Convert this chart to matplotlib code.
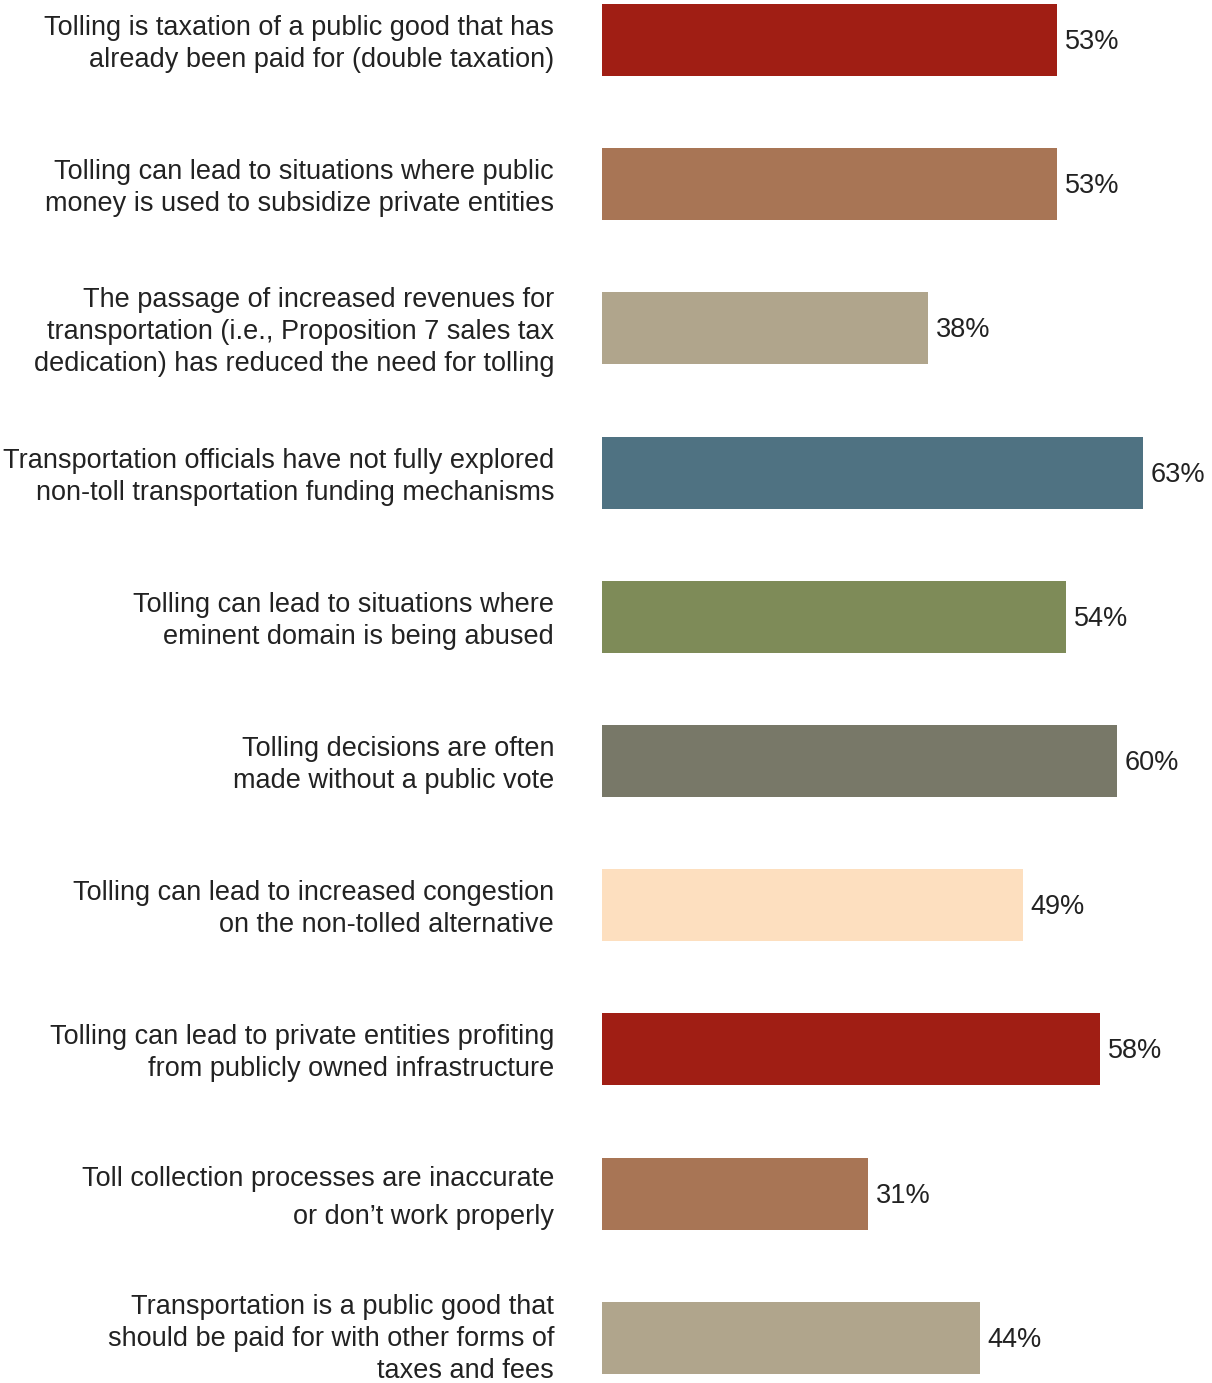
import matplotlib.pyplot as plt

plt.rcParams['font.family'] = ['Liberation Sans', 'DejaVu Sans']

# datos
etiquetas = [
    'Tolling is taxation of a public good that has\nalready been paid for (double taxation)',
    'Tolling can lead to situations where public\nmoney is used to subsidize private entities',
    'The passage of increased revenues for\ntransportation (i.e., Proposition 7 sales tax\ndedication) has reduced the need for tolling',
    'Transportation officials have not fully explored\nnon-toll transportation funding mechanisms',
    'Tolling can lead to situations where\neminent domain is being abused',
    'Tolling decisions are often\nmade without a public vote',
    'Tolling can lead to increased congestion\non the non-tolled alternative',
    'Tolling can lead to private entities profiting\nfrom publicly owned infrastructure',
    'Toll collection processes are inaccurate\nor don\u2019t work properly',
    'Transportation is a public good that\nshould be paid for with other forms of\ntaxes and fees',
]
valores = [53, 53, 38, 63, 54, 60, 49, 58, 31, 44]
colores = ['#A01E14', '#A87555', '#B0A58C', '#4F7282', '#7E8B58',
           '#787868', '#FDDFBF', '#A01E14', '#A87555', '#B0A58C']

fig = plt.figure(figsize=(12.12, 13.83), dpi=100)
ax = fig.add_axes([602/1212, 0, 610/1212, 1])

pos = list(range(len(valores)))
ax.barh(pos, valores, height=0.5, color=colores)
ax.set_xlim(0, 610/8.585)
ax.set_ylim(9.313, -0.277)
ax.axis('off')

for i, v in enumerate(valores):
    ax.annotate(f'{v}%', xy=(v, i), xycoords='data', xytext=(8, -2),
                textcoords='offset pixels', va='center', ha='left',
                fontsize=19.5, color='#222222')
    esp = 1.6 if i == 8 else 1.3   # esta etiqueta va mas espaciada
    dy = -1 if i == len(valores) - 1 else -4   # la ultima toca el borde
    ax.annotate(etiquetas[i], xy=(0, i), xycoords='data', xytext=(-48, dy),
                textcoords='offset pixels', ha='right', va='center',
                fontsize=19.5, color='#222222', linespacing=esp)

fig.savefig('out.png', dpi=100)
